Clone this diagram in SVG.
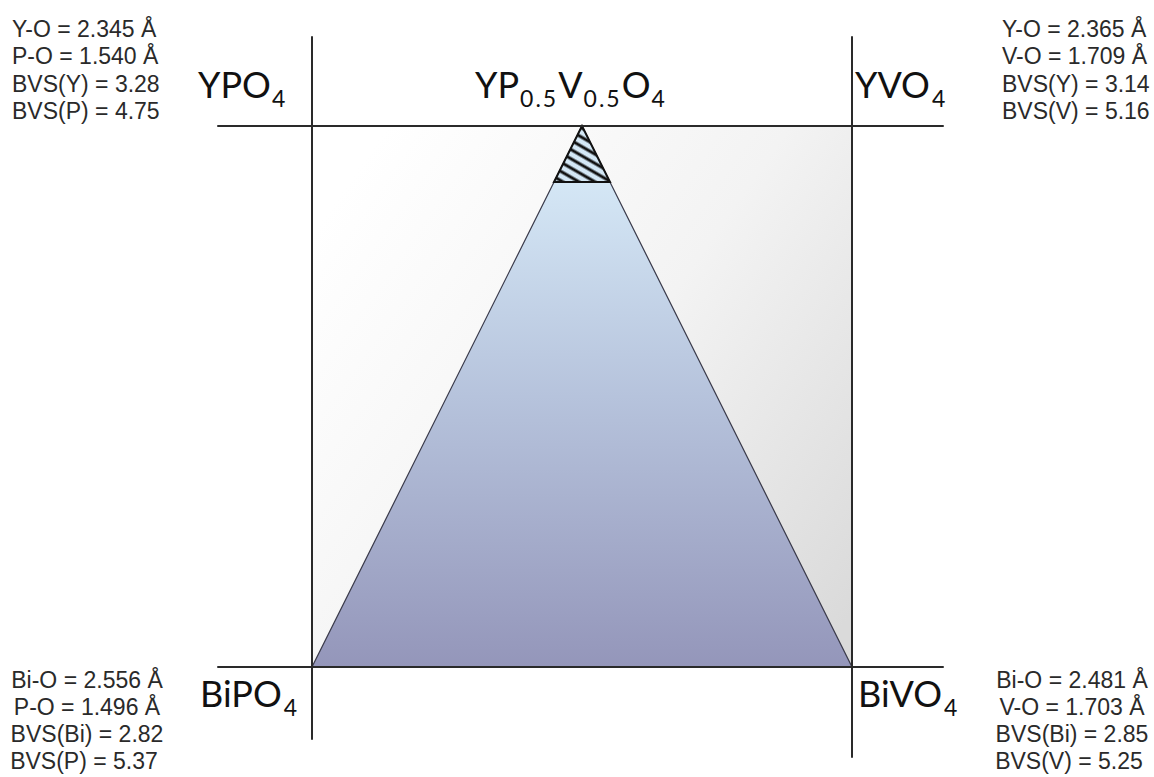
<svg xmlns="http://www.w3.org/2000/svg" width="1154" height="777" viewBox="0 0 1154 777">
<defs>
<linearGradient id="bgGrad" x1="0" y1="0.2" x2="1" y2="0.9">
<stop offset="0" stop-color="#ffffff"/>
<stop offset="0.5" stop-color="#f3f3f3"/>
<stop offset="1" stop-color="#dadada"/>
</linearGradient>
<linearGradient id="triGrad" x1="0" y1="0" x2="0" y2="1">
<stop offset="0" stop-color="#dcf0fc"/>
<stop offset="0.5" stop-color="#b6c3dc"/>
<stop offset="1" stop-color="#9496ba"/>
</linearGradient>
<pattern id="hatch" patternUnits="userSpaceOnUse" width="8" height="8" patternTransform="rotate(30)">
<rect width="8" height="8" fill="#d4e8f6"/>
<line x1="0" y1="4" x2="8" y2="4" stroke="#111" stroke-width="3"/>
</pattern>
<style>
.data{font-family:"Liberation Sans",Arial,sans-serif;font-size:23px;fill:#2a2a2a}
.comp{font-family:Lato,"Open Sans",sans-serif;font-size:36px;fill:#111}
.sub{font-size:23px;letter-spacing:2px}
.frame{stroke:#2a2a2a;stroke-width:2;fill:none;stroke-linecap:round}
</style>
</defs>
<rect width="1154" height="777" fill="#ffffff"/>
<rect x="312" y="126" width="540" height="541" fill="url(#bgGrad)"/>
<g id="triangle">
<polygon points="582,126 312,667 852,667" fill="url(#triGrad)" stroke="#3a3a4a" stroke-width="1.2"/>
<polygon points="582,126 554,182 610,182" fill="url(#hatch)" stroke="#111" stroke-width="2"/>
</g>
<g id="connectors">
<line class="frame" x1="218" y1="126" x2="943" y2="126"/>
<line class="frame" x1="218" y1="667" x2="943" y2="667"/>
<line class="frame" x1="312" y1="37" x2="312" y2="739"/>
<line class="frame" x1="852" y1="37" x2="852" y2="757"/>
</g>
<g id="node-YPO4">
<text class="comp" x="198" y="98">YPO<tspan class="sub" dx="1" dy="9">4</tspan></text>
<text class="data" x="12" y="37">Y-O = 2.345 Å</text>
<text class="data" x="12" y="64">P-O = 1.540 Å</text>
<text class="data" x="12" y="92">BVS(Y) = 3.28</text>
<text class="data" x="12" y="119">BVS(P) = 4.75</text>
</g>
<g id="node-YP05V05O4">
<text class="comp" x="475" y="98">YP<tspan class="sub" dx="1" dy="9">0.5</tspan><tspan dy="-9">V</tspan><tspan class="sub" dx="1" dy="9">0.5</tspan><tspan dy="-9">O</tspan><tspan class="sub" dx="1" dy="9">4</tspan></text>
</g>
<g id="node-YVO4">
<text class="comp" x="855" y="98">YVO<tspan class="sub" dx="2" dy="9">4</tspan></text>
<text class="data" x="1002" y="37">Y-O = 2.365 Å</text>
<text class="data" x="1002" y="64">V-O = 1.709 Å</text>
<text class="data" x="1002" y="92">BVS(Y) = 3.14</text>
<text class="data" x="1002" y="119">BVS(V) = 5.16</text>
</g>
<g id="node-BiPO4">
<text class="comp" x="200" y="707">BiPO<tspan class="sub" dx="2" dy="9">4</tspan></text>
<g text-anchor="middle">
<text class="data" x="87" y="688">Bi-O = 2.556 Å</text>
<text class="data" x="87" y="715">P-O = 1.496 Å</text>
<text class="data" x="87" y="742">BVS(Bi) = 2.82</text>
<text class="data" x="84" y="769">BVS(P) = 5.37</text>
</g>
</g>
<g id="node-BiVO4">
<text class="comp" x="858" y="707">BiVO<tspan class="sub" dx="2" dy="9">4</tspan></text>
<g text-anchor="middle">
<text class="data" x="1072" y="688">Bi-O = 2.481 Å</text>
<text class="data" x="1072" y="715">V-O = 1.703 Å</text>
<text class="data" x="1072" y="742">BVS(Bi) = 2.85</text>
<text class="data" x="1069" y="769">BVS(V) = 5.25</text>
</g>
</g>
</svg>
